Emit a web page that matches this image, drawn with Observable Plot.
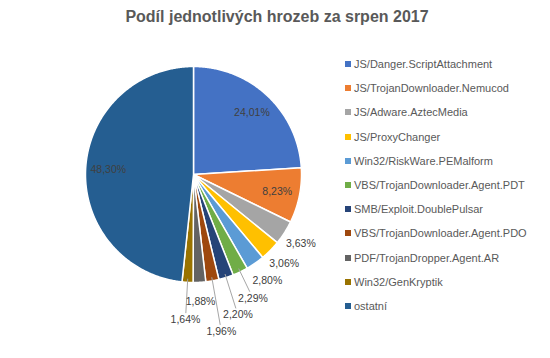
<!DOCTYPE html>
<html><head><meta charset="utf-8">
<script src="https://cdn.jsdelivr.net/npm/d3@7"></script>
<script src="https://cdn.jsdelivr.net/npm/@observablehq/plot@0.6"></script>
<style>
body{margin:0;background:#fff;font-family:"Liberation Sans",Arial,sans-serif;}
#wrap{position:relative;width:550px;height:358px;overflow:hidden}
#title{height:34px;line-height:34px;text-align:center;font-weight:bold;font-size:16px;color:#595959;padding-left:4px}
#chart{position:absolute;left:0;top:34px}
#legend{position:absolute;left:345px;top:52px}
.row{height:24.2px;display:flex;align-items:center;font-size:11px;color:#595959;white-space:nowrap}
.sw{width:6px;height:6px;margin-right:3px;flex:none}
</style></head><body>
<div id="wrap"><div id="title">Podíl jednotlivých hrozeb za srpen 2017</div><div id="chart"></div><div id="legend"></div></div>
<script>
const threats = ["JS/Danger.ScriptAttachment","JS/TrojanDownloader.Nemucod","JS/Adware.AztecMedia","JS/ProxyChanger","Win32/RiskWare.PEMalform","VBS/TrojanDownloader.Agent.PDT","SMB/Exploit.DoublePulsar","VBS/TrojanDownloader.Agent.PDO","PDF/TrojanDropper.Agent.AR","Win32/GenKryptik","ostatní"];
const shares = [24.01, 8.23, 3.63, 3.06, 2.80, 2.29, 2.20, 1.96, 1.88, 1.64, 48.30];
const colors = ["#4472C4","#ED7D31","#A5A5A5","#FFC000","#5B9BD5","#70AD47","#264478","#9E480E","#636363","#997300","#255E91"];

const W = 550, H = 324;
const R = 108, cx = 193, cy = 140;
const labelFont = "10.5px 'Liberation Sans'";
const fmt = v => v.toFixed(2).replace(".", ",") + "%";

const arcs = d3.pie().sort(null).value(d => d)(shares);

// slice outlines in unit coordinates
const sliceRows = [];
arcs.forEach((a, i) => {
  const name = threats[i];
  sliceRows.push({name, x: 0, y: 0});
  const n = Math.max(2, Math.ceil((a.endAngle - a.startAngle) / (Math.PI / 360)));
  for (let k = 0; k <= n; k++) {
    const t = a.startAngle + (a.endAngle - a.startAngle) * k / n;
    sliceRows.push({name, x: Math.sin(t), y: Math.cos(t)});
  }
});

// label layout: small slices get outside labels pushed out along their ray until free
const ctx = document.createElement("canvas").getContext("2d");
ctx.font = labelFont;
const toPx = (ux, uy) => [cx + ux * R, cy - uy * R];
const toU = (px, py) => [(px - cx) / R, (cy - py) / R];
const labels = [], leaders = [], placed = [];
arcs.forEach((a, i) => {
  const mid = (a.startAngle + a.endAngle) / 2;
  const text = fmt(shares[i]);
  if (shares[i] >= 5) {
    labels.push({x: 0.79 * Math.sin(mid), y: 0.79 * Math.cos(mid), text});
    return;
  }
  const w = ctx.measureText(text).width;
  const r0 = 1.18 * R;
  let x, y, r = r0;
  for (; r < 2 * R; r += 2) {
    x = cx + r * Math.sin(mid); y = cy - r * Math.cos(mid);
    if (!placed.some(p => Math.abs(p.x - x) < (p.w + w) / 2 + 4 && Math.abs(p.y - y) < 16)) break;
  }
  placed.push({x, y, w});
  const [ux, uy] = toU(x, y);
  labels.push({x: ux, y: uy, text});
  if (r - r0 > 5) {
    const [rx, ry] = toPx(0.97 * Math.sin(mid), 0.97 * Math.cos(mid));
    const dx = rx - x, dy = ry - y;
    const t = Math.min((w / 2 + 2) / Math.abs(dx || 1e-9), 7 / Math.abs(dy || 1e-9));
    const ex = x + t * dx, ey = y + t * dy;
    [[rx, ry], [ex, ey]].forEach(p => { const [u, v] = toU(p[0], p[1]); leaders.push({id: i, x: u, y: v}); });
  }
});

const chart = Plot.plot({
  width: W, height: H,
  margin: 0,
  x: {domain: [-1, 1], range: [cx - R, cx + R], axis: null},
  y: {domain: [-1, 1], range: [cy + R, cy - R], axis: null},
  color: {domain: threats, range: colors},
  style: {fontFamily: "'Liberation Sans', Arial, sans-serif", background: "white"},
  marks: [
    Plot.line(sliceRows, {x: "x", y: "y", z: "name", fill: "name", stroke: "white", strokeWidth: 1.5, strokeLinejoin: "round", curve: "linear-closed"}),
    Plot.line(leaders, {x: "x", y: "y", z: "id", stroke: "#a6a6a6", strokeWidth: 1}),
    Plot.text(labels, {x: "x", y: "y", text: "text", fill: "#404040", fontSize: 10.5})
  ]
});
document.getElementById("chart").appendChild(chart);

const legend = d3.select("#legend");
threats.forEach((t, i) => {
  const row = legend.append("div").attr("class", "row");
  row.append("div").attr("class", "sw").style("background", colors[i]);
  row.append("span").text(t);
});
</script>
</body></html>
